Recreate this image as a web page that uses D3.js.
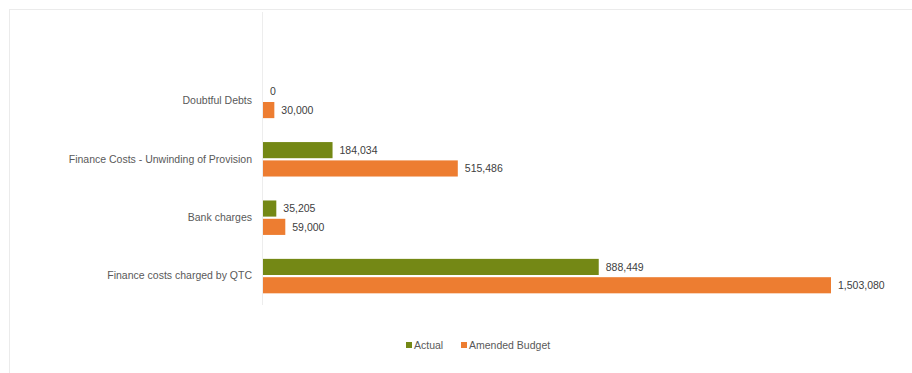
<!DOCTYPE html>
<html>
<head>
<meta charset="utf-8">
<script src="https://cdn.jsdelivr.net/npm/d3@7"></script>
<style>
  html, body { margin: 0; padding: 0; background: #fff; }
  svg { display: block; }
  text { font-family: "Liberation Sans Narrow", "Liberation Sans", sans-serif; }
</style>
</head>
<body>
<svg id="chart" width="912" height="373"></svg>
<script>
// Finance charges: actual vs amended budget
const categories = [
  "Doubtful Debts",
  "Finance Costs - Unwinding of Provision",
  "Bank charges",
  "Finance costs charged by QTC"
];
const seriesNames = ["Actual", "Amended Budget"];
const actual = [0, 184034, 35205, 888449];
const amendedBudget = [30000, 515486, 59000, 1503080];
const seriesColors = ["#748815", "#ed7d31"];

const values = [actual, amendedBudget];
const rows = categories.map((c, i) => ({
  category: c,
  bars: seriesNames.map((s, j) => ({ series: s, value: values[j][i], color: seriesColors[j] }))
}));

const svg = d3.select("#chart");

// outer chart frame
svg.append("rect")
  .attr("x", 9.5).attr("y", 9.5)
  .attr("width", 912).attr("height", 373)
  .attr("fill", "none")
  .attr("stroke", "#ebebeb");

const plotTop = 12, plotBottom = 305;
const x = d3.scaleLinear().domain([0, 1503080]).range([263, 831]);

const y = d3.scaleBand()
  .domain(categories)
  .range([72, plotBottom])
  .paddingInner(0.41)
  .paddingOuter(0.2);

const ySub = d3.scaleBand()
  .domain(seriesNames)
  .range([0, y.bandwidth()])
  .paddingInner(0.12);

// vertical category axis line
svg.append("line")
  .attr("x1", x(0) - 0.5).attr("x2", x(0) - 0.5)
  .attr("y1", plotTop).attr("y2", plotBottom)
  .attr("stroke", "#ededed");

// category labels
const yAxis = d3.axisLeft(y).tickSize(0).tickPadding(10);
const gAxis = svg.append("g")
  .attr("transform", `translate(${x(0) - 1},0)`)
  .call(yAxis);
gAxis.select(".domain").remove();
gAxis.selectAll("text")
  .attr("font-size", "10.5px")
  .attr("fill", "#595959")
  .style("font-family", '"Liberation Sans Narrow", "Liberation Sans", sans-serif');

// bars and value labels
const groups = svg.append("g").selectAll("g")
  .data(rows).join("g")
  .attr("transform", d => `translate(0,${y(d.category)})`);

groups.selectAll("rect")
  .data(d => d.bars).join("rect")
  .attr("x", x(0))
  .attr("y", d => ySub(d.series))
  .attr("width", d => x(d.value) - x(0))
  .attr("height", ySub.bandwidth())
  .attr("fill", d => d.color);

groups.selectAll("text.val")
  .data(d => d.bars).join("text")
  .attr("class", "val")
  .attr("x", d => x(d.value) + 7)
  .attr("y", d => ySub(d.series) + ySub.bandwidth() / 2)
  .attr("dy", "0.35em")
  .attr("font-size", "10.5px")
  .attr("fill", "#404040")
  .text(d => d3.format(",")(d.value));

// legend
const legend = svg.append("g").attr("transform", "translate(406,345)");
const legendOffsets = [0, 55];
seriesNames.forEach((s, i) => {
  const g = legend.append("g").attr("transform", `translate(${legendOffsets[i]},0)`);
  g.append("rect").attr("x", 0).attr("y", -3).attr("width", 6).attr("height", 6)
    .attr("fill", seriesColors[i]);
  g.append("text").attr("x", 8).attr("y", 0).attr("dy", "0.35em")
    .attr("font-size", "10.5px").attr("fill", "#595959").text(s);
});
</script>
</body>
</html>
